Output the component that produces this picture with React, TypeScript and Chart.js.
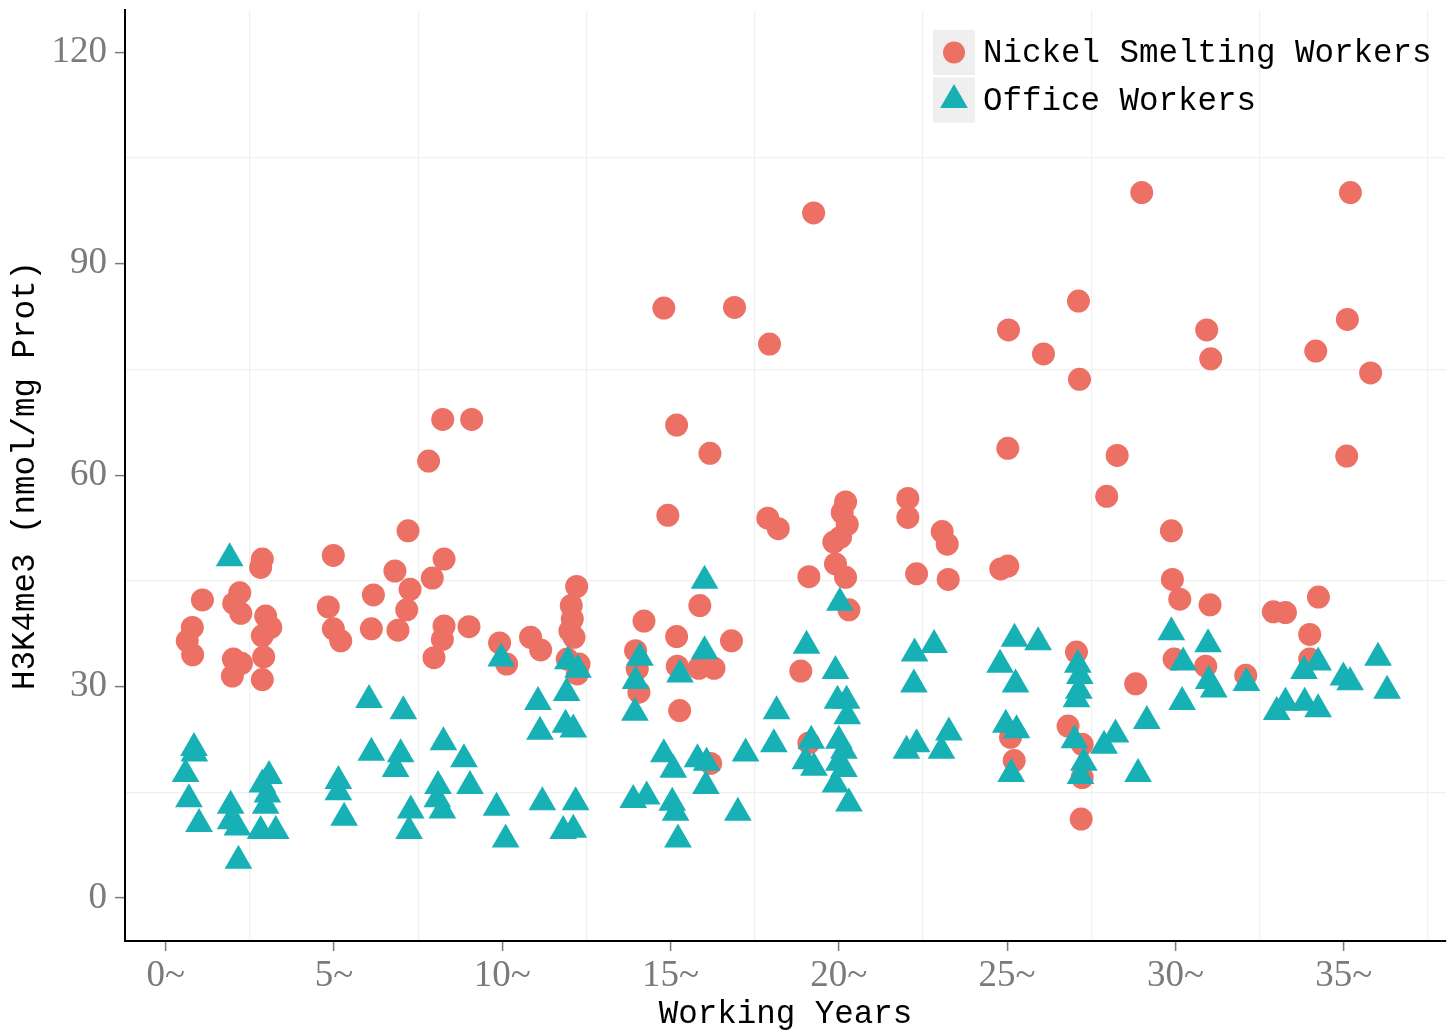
import { useEffect, useRef } from 'react';
import { Chart, registerables } from 'chart.js';

Chart.register(...registerables);

const seriesNames = ['Nickel Smelting Workers', 'Office Workers'];
const xTitle = 'Working Years';
const yTitle = 'H3K4me3 (nmol/mg Prot)';

const nickelX = [
  0.64, 0.79, 0.8, 1.09, 1.98, 2.01, 2.25, 2.02, 2.2, 2.23, 2.82, 2.87, 2.87, 2.91, 2.87, 2.97, 3.12,
  4.83, 4.98, 4.98, 5.2, 6.11, 6.17, 6.81, 6.9, 7.16, 7.2, 7.26, 7.81, 7.92, 7.97, 8.22, 8.23, 8.27, 8.27,
  9.01, 9.09, 9.92, 10.13, 10.84, 11.14, 11.93, 12.01, 12.05, 12.08, 12.13, 12.21, 12.23, 12.28,
  13.96, 14.01, 14.06, 14.21, 14.8, 14.92, 15.18, 15.18, 15.2, 15.27, 15.84, 15.87, 16.17, 16.19, 16.29,
  16.81, 16.9, 17.89, 17.94, 18.2, 18.87, 19.11, 19.11, 19.25, 19.85, 19.9, 20.05, 20.1, 20.2, 20.25,
  20.2, 20.3, 22.05, 22.05, 22.31, 23.07, 23.22, 23.25, 24.81, 25.02, 25.02, 25.04, 25.1, 25.21, 26.08,
  26.81, 27.06, 27.12, 27.15, 27.23, 27.23, 27.2, 27.96, 28.27, 28.82, 29.0, 29.88, 29.91, 29.96, 30.13,
  30.9, 30.93, 31.03, 31.05, 32.09, 32.91, 33.27, 33.99, 33.99, 34.17, 34.25, 35.09, 35.11, 35.2, 35.8,
];
const nickelY = [
  36.5, 38.4, 34.5, 42.3, 31.5, 33.9, 33.3, 41.8, 43.3, 40.4, 46.9, 48.1, 37.2, 34.2, 31.0, 40.0, 38.4,
  41.3, 48.6, 38.2, 36.5, 38.2, 43.0, 46.4, 38.0, 40.9, 52.1, 43.8, 62.0, 45.4, 34.1, 36.7, 67.9, 48.1, 38.6,
  38.5, 67.9, 36.2, 33.2, 37.0, 35.2, 33.9, 37.9, 41.5, 39.6, 37.0, 44.2, 31.8, 33.2,
  35.1, 32.5, 29.2, 39.3, 83.7, 54.3, 67.1, 37.1, 32.9, 26.6, 32.6, 41.5, 63.1, 19.1, 32.6,
  36.5, 83.8, 53.9, 78.6, 52.4, 32.2, 45.6, 22.0, 97.2, 50.5, 47.4, 51.2, 54.7, 56.2, 53.0,
  45.5, 40.9, 56.7, 54.0, 46.0, 52.0, 50.2, 45.2, 46.7, 47.1, 63.8, 80.6, 22.8, 19.5, 77.2,
  24.4, 34.9, 84.7, 73.6, 21.8, 17.1, 11.2, 57.0, 62.8, 30.4, 100.1, 52.1, 45.2, 33.9, 42.4,
  32.9, 80.6, 41.6, 76.5, 31.6, 40.6, 40.5, 37.4, 33.9, 77.6, 42.7, 62.7, 82.1, 100.1, 74.5,
];

const officeX = [
  0.59, 0.69, 0.84, 0.85, 0.99, 1.9, 1.93, 1.93, 2.13, 2.16, 2.82, 2.87, 2.97, 3.02, 3.07, 3.27,
  5.13, 5.13, 5.3, 6.04, 6.11, 6.83, 6.98, 7.06, 7.23, 7.28, 8.07, 8.09, 8.22, 8.25, 8.86, 9.04, 9.83,
  9.97, 10.1, 11.06, 11.12, 11.19, 11.81, 11.88, 11.91, 11.95, 12.11, 12.11, 12.18, 12.25,
  13.89, 13.94, 13.96, 14.09, 14.29, 14.8, 15.05, 15.08, 15.15, 15.22, 15.28, 15.8, 16.01, 16.01, 16.05,
  16.07, 17.0, 17.23, 18.07, 18.15, 19.01, 19.04, 19.18, 19.26, 19.9, 19.9, 19.96, 20.0, 20.0, 20.03,
  20.15, 20.15, 20.23, 20.25, 20.3, 22.01, 22.23, 22.25, 22.31, 22.83, 23.05, 23.27, 24.79, 24.96, 25.12,
  25.22, 25.25, 25.28, 25.92, 27.0, 27.06, 27.1, 27.13, 27.16, 27.18, 27.28, 27.88, 28.22, 28.89, 29.15,
  29.88, 30.2, 30.23, 30.97, 30.99, 31.14, 32.11, 33.01, 33.27, 33.82, 33.84, 34.24, 34.24, 34.99, 35.19,
  36.02, 36.29,
];
const officeY = [
  17.6, 14.0, 21.3, 20.5, 10.5, 48.2, 13.1, 10.9, 10.0, 5.3, 9.5, 16.1, 13.1, 14.7, 17.3, 9.5,
  16.6, 15.0, 11.4, 28.1, 20.6, 18.3, 20.4, 26.5, 9.5, 12.4, 14.0, 15.9, 12.4, 22.1, 19.7, 15.9, 12.8,
  34.0, 8.3, 27.8, 23.6, 13.6, 9.5, 24.6, 29.1, 33.6, 23.9, 9.7, 13.6, 32.4,
  13.9, 26.3, 30.8, 34.1, 14.4, 20.4, 13.5, 18.2, 12.1, 8.3, 31.7, 19.7, 45.0, 35.0, 15.9,
  19.2, 12.1, 20.5, 21.8, 26.5, 19.4, 35.8, 22.3, 18.5, 32.2, 16.1, 28.0, 22.3, 19.2, 41.9,
  20.9, 18.3, 28.0, 25.8, 13.4, 20.9, 30.3, 34.7, 21.8, 35.9, 20.9, 23.5, 33.1, 24.6, 17.6,
  36.8, 30.3, 23.8, 36.3, 22.4, 28.2, 33.1, 29.4, 31.5, 17.3, 19.2, 21.6, 23.2, 17.6, 25.1,
  37.7, 27.8, 33.4, 36.0, 30.8, 29.6, 30.5, 26.4, 27.7, 32.2, 27.7, 33.4, 26.8, 31.3, 30.6,
  34.1, 29.4,
];

const xTickStep = 2.5;
const xLabelEvery = 5;
const yTickStep = 15;
const yLabelEvery = 30;

const nickelColor = '#EC7064';
const officeColor = '#17B1B5';

const legendPlugin = {
  id: 'ggLegend',
  afterDraw(chart: any) {
    const ctx = chart.ctx as CanvasRenderingContext2D;
    const area = chart.chartArea;
    const boxX = area.right - 513;
    const boxW = 42;
    const rows = [
      { name: seriesNames[0], color: nickelColor, shape: 'circle', top: area.top + 20 },
      { name: seriesNames[1], color: officeColor, shape: 'triangle', top: area.top + 67.5 },
    ];
    ctx.save();
    for (const r of rows) {
      ctx.fillStyle = '#efefef';
      ctx.fillRect(boxX, r.top, boxW, 45);
      const cx = boxX + boxW / 2;
      const cy = r.top + 22.5;
      ctx.fillStyle = r.color;
      ctx.beginPath();
      if (r.shape === 'circle') {
        ctx.arc(cx, cy, 11, 0, Math.PI * 2);
      } else {
        const rad = 16;
        ctx.moveTo(cx, cy - rad);
        ctx.lineTo(cx + rad * Math.sin((2 * Math.PI) / 3), cy - rad * Math.cos((2 * Math.PI) / 3));
        ctx.lineTo(cx + rad * Math.sin((4 * Math.PI) / 3), cy - rad * Math.cos((4 * Math.PI) / 3));
        ctx.closePath();
      }
      ctx.fill();
      ctx.fillStyle = '#000';
      ctx.font = '32.5px "Liberation Mono"';
      ctx.textBaseline = 'middle';
      ctx.textAlign = 'left';
      ctx.fillText(r.name, boxX + boxW + 8, cy + 1);
    }
    ctx.restore();
  },
};

const isMult = (v: number, m: number) => Math.abs(v / m - Math.round(v / m)) < 1e-6;

const zeroPadding = (s: any) => {
  s.paddingTop = 0;
  s.paddingBottom = 0;
  s.paddingLeft = 0;
  s.paddingRight = 0;
};

export default function App() {
  const ref = useRef<HTMLCanvasElement | null>(null);
  useEffect(() => {
    if (!ref.current) return;
    const chart = new Chart(ref.current, {
      type: 'scatter',
      data: {
        datasets: [
          {
            label: seriesNames[0],
            data: nickelX.map((x, i) => ({ x, y: nickelY[i] })),
            backgroundColor: nickelColor,
            borderColor: nickelColor,
            borderWidth: 0,
            pointStyle: 'circle',
            pointRadius: 11.5,
            order: 1,
          },
          {
            label: seriesNames[1],
            data: officeX.map((x, i) => ({ x, y: officeY[i] })),
            backgroundColor: officeColor,
            borderColor: officeColor,
            borderWidth: 0,
            pointStyle: 'triangle',
            pointRadius: 16,
            order: 0,
          },
        ],
      },
      options: {
        animation: false,
        responsive: true,
        maintainAspectRatio: false,
        layout: { autoPadding: false, padding: { top: 10, right: 7, left: 0, bottom: 0 } },
        plugins: { legend: { display: false }, tooltip: { enabled: false } },
        scales: {
          x: {
            type: 'linear',
            min: -1.21,
            max: 38.04,
            afterFit: (s: any) => {
              s.height = 93;
              zeroPadding(s);
            },
            border: { display: true, color: '#000', width: 2 },
            grid: {
              color: (c: any) => (c.tick && isMult(c.tick.value, xLabelEvery) ? 'rgba(0,0,0,0)' : '#f0f0f0'),
              lineWidth: 1.2,
              drawTicks: true,
              tickLength: 10,
              tickColor: (c: any) => (c.tick && isMult(c.tick.value, xLabelEvery) ? '#7a7a7a' : 'rgba(0,0,0,0)'),
              tickWidth: 1.5,
            },
            ticks: {
              stepSize: xTickStep,
              includeBounds: false,
              autoSkip: false,
              maxRotation: 0,
              padding: 3,
              color: '#7a7a7a',
              font: { family: '"Liberation Serif"', size: 37 },
              callback: (v: any) => (isMult(Number(v), xLabelEvery) ? `${v}~` : ''),
            },
            title: {
              display: true,
              text: xTitle,
              color: '#000',
              font: { family: '"Liberation Mono"', size: 32.5 },
              padding: { top: 0, bottom: 0 },
            },
          },
          y: {
            type: 'linear',
            min: -6.1,
            max: 126,
            afterFit: (s: any) => {
              s.width = 125;
              zeroPadding(s);
            },
            border: { display: true, color: '#000', width: 2 },
            grid: {
              color: (c: any) => (c.tick && isMult(c.tick.value, yLabelEvery) ? 'rgba(0,0,0,0)' : '#f0f0f0'),
              lineWidth: 1.2,
              drawTicks: true,
              tickLength: 10,
              tickColor: (c: any) => (c.tick && isMult(c.tick.value, yLabelEvery) ? '#7a7a7a' : 'rgba(0,0,0,0)'),
              tickWidth: 1.5,
            },
            ticks: {
              stepSize: yTickStep,
              includeBounds: false,
              autoSkip: false,
              padding: 8,
              color: '#7a7a7a',
              font: { family: '"Liberation Serif"', size: 37 },
              callback: (v: any) => (isMult(Number(v), yLabelEvery) ? `${v}` : ''),
            },
            title: {
              display: true,
              text: yTitle,
              color: '#000',
              font: { family: '"Liberation Mono"', size: 32.5 },
              padding: { top: 6, bottom: 0 },
            },
          },
        },
      },
      plugins: [legendPlugin],
    } as any);
    return () => chart.destroy();
  }, []);
  return (
    <div style={{ position: 'absolute', left: 0, top: 0, width: 1453, height: 1034 }}>
      <canvas ref={ref} />
    </div>
  );
}
